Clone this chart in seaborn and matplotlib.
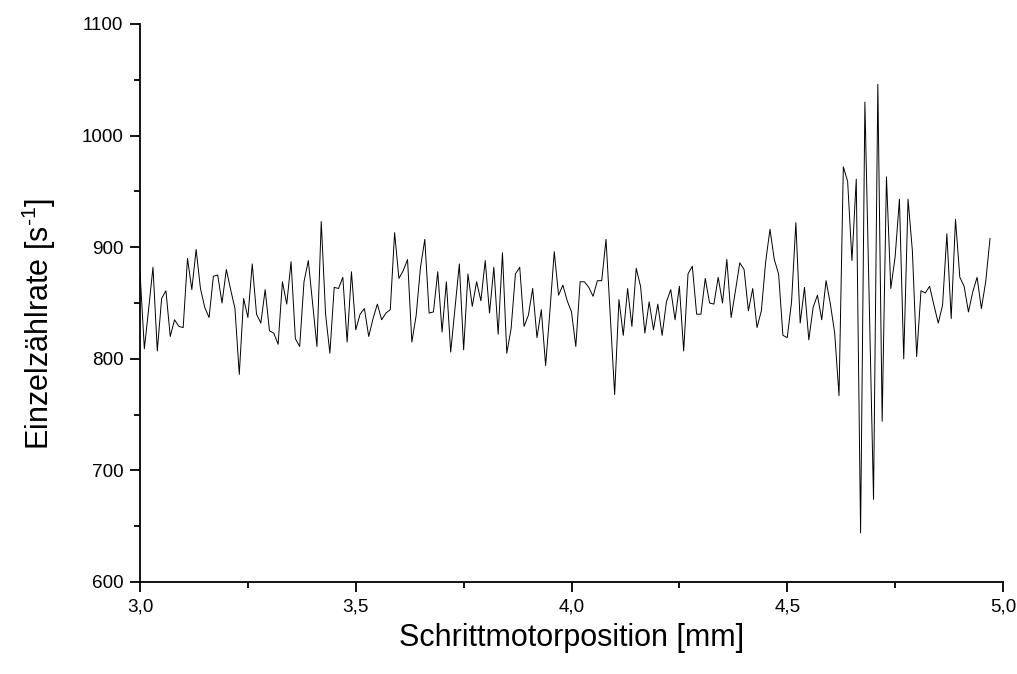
import numpy as np
import pandas as pd
import matplotlib
matplotlib.use("Agg")
import matplotlib.pyplot as plt
from matplotlib.ticker import MultipleLocator, FuncFormatter
import seaborn as sns

# --- data ---
x_start = 3.00
x_step = 0.01
rate = [
    877, 809, 845, 882, 807, 854, 861, 820, 835, 829,
    828, 890, 862, 898, 863, 846, 837, 874, 875, 850,
    880, 862, 845, 786, 854, 837, 885, 840, 832, 862,
    825, 823, 813, 869, 849, 887, 818, 811, 869, 888,
    849, 811, 923, 840, 805, 864, 863, 873, 815, 878,
    826, 840, 845, 820, 836, 849, 835, 841, 844, 913,
    872, 879, 889, 815, 839, 882, 907, 841, 842, 878,
    824, 869, 806, 846, 885, 808, 876, 847, 869, 852,
    888, 841, 882, 822, 895, 805, 827, 876, 882, 829,
    839, 863, 819, 844, 794, 843, 896, 857, 866, 852,
    842, 811, 869, 869, 864, 856, 870, 870, 907, 838,
    768, 853, 821, 863, 829, 881, 865, 823, 851, 826,
    849, 821, 851, 862, 835, 865, 807, 876, 883, 840,
    840, 872, 850, 849, 873, 850, 889, 837, 861, 886,
    880, 843, 863, 828, 843, 887, 916, 889, 876, 821,
    819, 851, 922, 832, 864, 817, 846, 857, 835, 870,
    849, 823, 767, 972, 959, 888, 961, 644, 1030, 850,
    674, 1046, 744, 963, 863, 891, 943, 800, 943, 897,
    802, 861, 859, 865, 848, 832, 848, 912, 836, 925,
    873, 865, 842, 860, 873, 845, 869, 908,
]
position = [round(x_start + x_step * i, 2) for i in range(len(rate))]

x_ticks = [3.0, 3.5, 4.0, 4.5, 5.0]
y_ticks = [600, 700, 800, 900, 1000, 1100]

df = pd.DataFrame({"pos": position, "rate": rate})

sns.set_theme(style="ticks")
plt.rcParams["font.family"] = ["Liberation Sans", "DejaVu Sans"]
plt.rcParams["mathtext.fontset"] = "custom"
plt.rcParams["mathtext.rm"] = "Liberation Sans"
plt.rcParams["mathtext.it"] = "Liberation Sans:italic"
plt.rcParams["mathtext.bf"] = "Liberation Sans:bold"

fig = plt.figure(figsize=(10.17, 6.74), dpi=100)
ax = fig.add_axes([0.1377, 0.1365, 0.9862 - 0.1377, 0.9644 - 0.1365])

sns.lineplot(data=df, x="pos", y="rate", ax=ax, color="black", linewidth=0.7)

ax.set_xlim(3.0, 5.0)
ax.set_ylim(600, 1100)
ax.set_xticks(x_ticks)
ax.set_yticks(y_ticks)
ax.xaxis.set_minor_locator(MultipleLocator(0.25))
ax.yaxis.set_minor_locator(MultipleLocator(50))
ax.xaxis.set_major_formatter(FuncFormatter(lambda v, p: f"{v:.1f}".replace(".", ",")))
ax.yaxis.set_major_formatter(FuncFormatter(lambda v, p: f"{int(round(v))}"))

ax.tick_params(axis="both", which="major", direction="out", length=7, width=1.3,
               labelsize=13.6, color="black", labelcolor="black", pad=5)
ax.tick_params(axis="both", which="minor", direction="out", length=4, width=1.3,
               color="black")

for side in ["left", "bottom"]:
    ax.spines[side].set_linewidth(1.3)
    ax.spines[side].set_color("black")
sns.despine(ax=ax)

ax.set_xlabel("Schrittmotorposition [mm]", fontsize=22, color="black", labelpad=5)
ax.set_ylabel(r"Einzelzählrate [s$^{\text{-1}}$]", fontsize=22, color="black")
ax.yaxis.set_label_coords(-0.095, 0.462)

fig.savefig("out.png", dpi=100, facecolor="white")
